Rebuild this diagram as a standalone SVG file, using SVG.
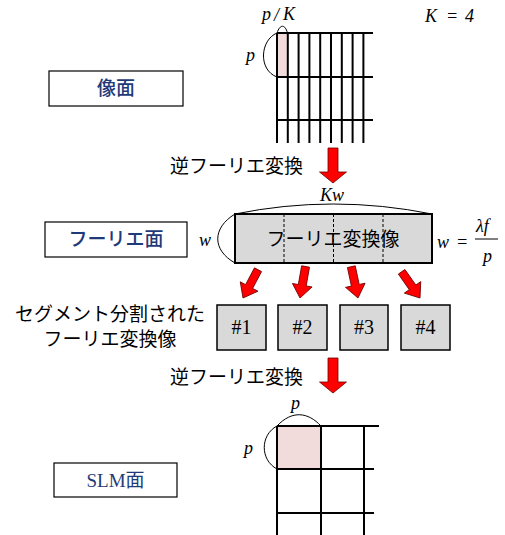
<svg xmlns="http://www.w3.org/2000/svg" width="505" height="535" viewBox="0 0 505 535">
<defs>
<style>
.jp{font-family:"Noto Sans CJK JP","Noto Sans",sans-serif;font-size:19px;fill:#000}
.lbl{font-family:"Noto Sans CJK JP","Noto Sans",sans-serif;font-size:19px;font-weight:500;fill:#1F3A78}
.m{font-family:"Liberation Serif",serif;font-style:italic;font-size:18px;fill:#000}
.s{font-family:"Liberation Serif",serif;font-size:20px;fill:#000}
.g{stroke:#000;stroke-width:2;fill:none}
.arc{stroke:#000;stroke-width:1;fill:none}
.box{fill:#fff;stroke:#000;stroke-width:1.2}
.arr{fill:#FF0000;stroke:#6b0000;stroke-width:0.8}
.sq{fill:#D9D9D9;stroke:#000;stroke-width:1.5}
</style>
<path id="bigArrow" d="M-5,-35 L5,-35 L5,-11 L13.5,-11 L0,0 L-13.5,-11 L-5,-11 Z"/>
<path id="smArrow" d="M-4,-32 L4,-32 L4,-13 L10,-13 L0,0 L-10,-13 L-4,-13 Z"/>
</defs>

<g id="label-image">
<rect class="box" x="49" y="71" width="134" height="35"/>
<text class="lbl" x="116" y="95" text-anchor="middle">像面</text>
</g>

<g id="image-grid">
<rect x="277" y="33" width="10.5" height="44" fill="#F2DCDB"/>
<g class="g">
<path d="M277,33H373M277,77H373M277,120H373"/>
<path d="M277,33V143M287.8,33V143M298.6,33V143M309.4,33V143M320.2,33V143M331,33V143M341.8,33V143M352.6,33V143M363.4,33V143"/>
</g>
<path class="arc" d="M277,33 C260,40 258,70 277,77"/>
<path class="arc" d="M277,33 C280,24 285,24 287.5,33"/>
<text class="m" x="246" y="61">p</text>
<text class="m" x="262" y="20">p</text>
<text class="m" x="274" y="21" font-style="normal" font-size="20">/</text>
<text class="m" x="283" y="20">K</text>
<text class="m" x="425" y="22">K</text>
<text class="m" x="446" y="22" font-style="normal">=</text>
<text class="m" x="465" y="22" font-style="normal">4</text>
</g>

<g id="ift1">
<text class="jp" x="170" y="173">逆フーリエ変換</text>
<use href="#bigArrow" class="arr" x="333" y="183"/>
</g>

<g id="label-fourier">
<rect class="box" x="45" y="222" width="142" height="35"/>
<text class="lbl" x="116" y="246" text-anchor="middle">フーリエ面</text>
</g>

<g id="ft-image">
<rect x="235" y="214" width="197" height="49" fill="#D9D9D9" stroke="#000" stroke-width="2"/>
<path d="M284,214V263M333.5,214V263M383,214V263" stroke="#000" stroke-width="1" stroke-dasharray="3,2"/>
<text class="jp" x="333" y="246" text-anchor="middle">フーリエ変換像</text>
<path class="arc" d="M235,214 Q333,194 432,214"/>
<path class="arc" d="M235,214 C212,228 212,250 235,263"/>
<text class="m" x="320" y="201">Kw</text>
<text class="m" x="199" y="246">w</text>
<text class="m" x="437" y="248">w</text>
<text class="m" x="456" y="248" font-style="normal">=</text>
<text class="m" x="476" y="232">λf</text>
<line x1="475" y1="239" x2="498" y2="239" stroke="#000" stroke-width="1"/>
<text class="m" x="483" y="262">p</text>
</g>

<g id="connectors">
<use href="#smArrow" class="arr" transform="translate(243,298) rotate(28)"/>
<use href="#smArrow" class="arr" transform="translate(300,298) rotate(10)"/>
<use href="#smArrow" class="arr" transform="translate(358,298) rotate(-12)"/>
<use href="#smArrow" class="arr" transform="translate(420,298) rotate(-35)"/>
</g>

<g id="segment-label">
<text class="jp" x="110" y="321" text-anchor="middle" font-size="18">セグメント分割された</text>
<text class="jp" x="110" y="346" text-anchor="middle" font-size="18">フーリエ変換像</text>
</g>

<g id="seg1"><rect class="sq" x="217" y="305" width="49" height="45"/><text class="s" x="241.5" y="334" text-anchor="middle">#1</text></g>
<g id="seg2"><rect class="sq" x="278" y="305" width="49" height="45"/><text class="s" x="302.5" y="334" text-anchor="middle">#2</text></g>
<g id="seg3"><rect class="sq" x="340" y="305" width="48" height="45"/><text class="s" x="364" y="334" text-anchor="middle">#3</text></g>
<g id="seg4"><rect class="sq" x="401" y="305" width="49" height="45"/><text class="s" x="425.5" y="334" text-anchor="middle">#4</text></g>

<g id="ift2">
<text class="jp" x="170" y="384">逆フーリエ変換</text>
<use href="#bigArrow" class="arr" x="333" y="393"/>
</g>

<g id="label-slm">
<rect class="box" x="54" y="463" width="123" height="34"/>
<text x="115.5" y="487" text-anchor="middle" font-family="'Liberation Serif','Noto Sans CJK JP',serif" font-size="19" fill="#1F3A78">SLM面</text>
</g>

<g id="slm-grid">
<rect x="277" y="426" width="44" height="43" fill="#F2DCDB"/>
<g class="g">
<path d="M277,426H379M277,469H374M277,513H374"/>
<path d="M277,426V535M321,426V535M364,426V535"/>
</g>
<path class="arc" d="M277,426 C292,410 308,412 321,426"/>
<path class="arc" d="M277,426 C260,435 260,460 277,469"/>
<text class="m" x="291" y="409">p</text>
<text class="m" x="244" y="454">p</text>
</g>
</svg>
